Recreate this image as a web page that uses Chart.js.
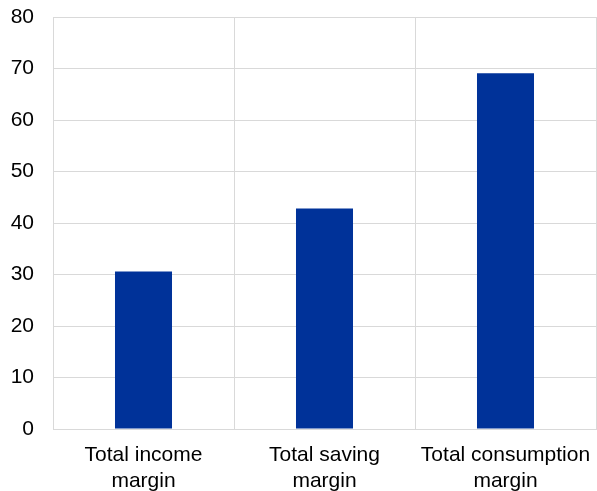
<!DOCTYPE html>
<html>
<head>
<meta charset="utf-8">
<script src="https://cdn.jsdelivr.net/npm/chart.js@4"></script>
<style>
  html, body { margin: 0; padding: 0; background: #fff; }
  #wrap { width: 597px; height: 491px; position: relative; }
</style>
</head>
<body>
<div id="wrap"><canvas id="chart"></canvas></div>
<script>
// categories and values
const categories = [['Total income', 'margin'], ['Total saving', 'margin'], ['Total consumption', 'margin']];
const marginValues = [30.6, 42.8, 69.1];
const yTicks = [0, 10, 20, 30, 40, 50, 60, 70, 80];

Chart.defaults.font.family = '"Liberation Sans", Arial, sans-serif';
Chart.defaults.font.size = 21;
Chart.defaults.color = '#000';

new Chart(document.getElementById('chart'), {
    type: 'bar',
    data: {
        labels: categories,
        datasets: [{
            data: marginValues,
            backgroundColor: '#003299',
            barPercentage: 0.315,
            categoryPercentage: 1
        }]
    },
    options: {
        responsive: true,
        maintainAspectRatio: false,
        animation: false,
        layout: { padding: { top: 17, right: 1, bottom: 0, left: 0 } },
        plugins: { legend: { display: false }, tooltip: { enabled: false } },
        scales: {
            x: {
                grid: { color: '#d9d9d9', drawTicks: false, offset: true },
                border: { color: '#d9d9d9' },
                ticks: { padding: 14, maxRotation: 0, font: { lineHeight: 1.2 } },
                afterFit: axis => {
                    axis.height = 62;
                    axis.paddingLeft = 0;
                    axis.paddingRight = 0;
                }
            },
            y: {
                min: 0,
                max: 80,
                afterBuildTicks: axis => { axis.ticks = yTicks.map(v => ({ value: v })); },
                grid: { color: '#d9d9d9', drawTicks: false },
                border: { color: '#d9d9d9' },
                ticks: { padding: 19 },
                afterFit: axis => {
                    axis.width = 53;
                    axis.paddingTop = 0;
                    axis.paddingBottom = 0;
                }
            }
        }
    }
});
</script>
</body>
</html>
